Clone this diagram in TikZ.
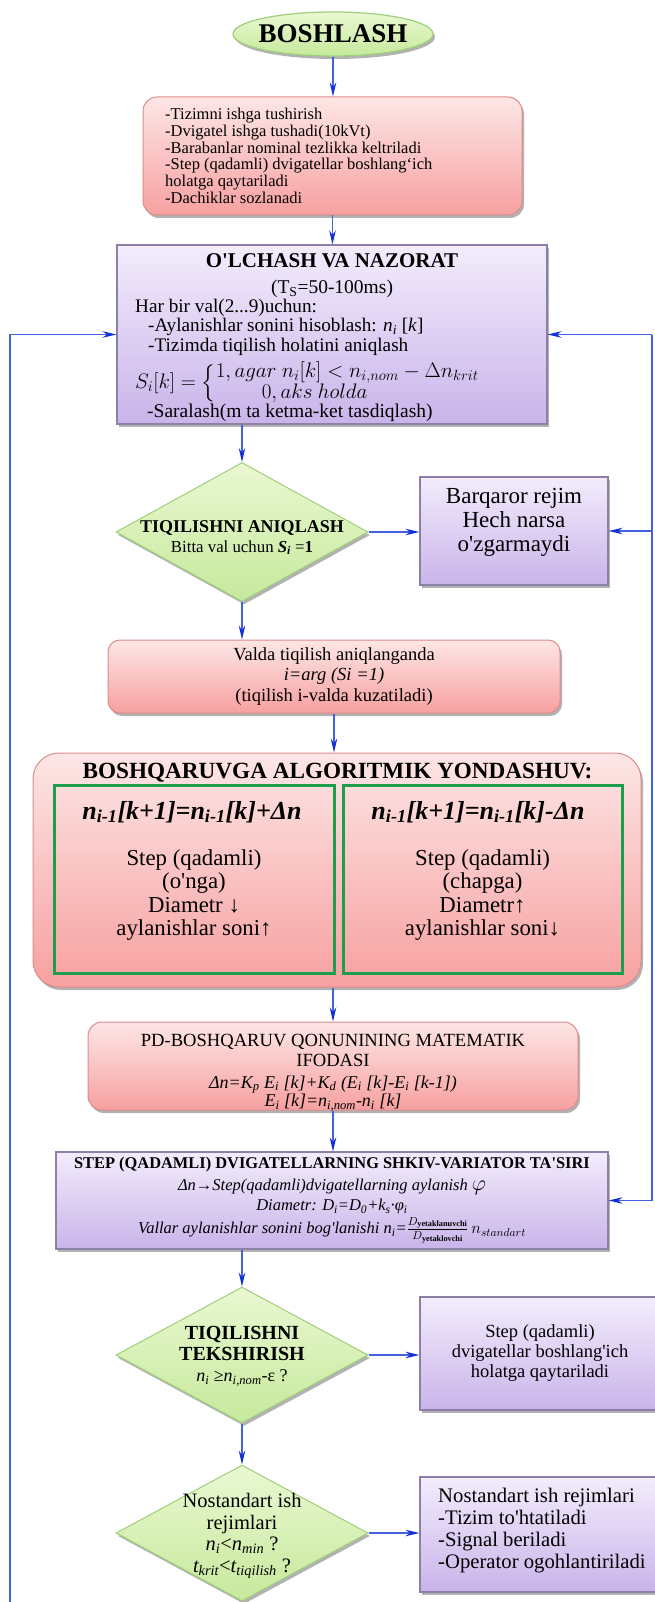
\RequirePackage{fix-cm}
\documentclass[tikz,border=0pt]{standalone}
\usepackage{amsmath}
\usepackage{fontspec}
\setmainfont{Liberation Serif}
\usetikzlibrary{shapes.geometric,arrows.meta,shadows}

\definecolor{pinkT}{HTML}{FDE6E6}
\definecolor{pinkB}{HTML}{F7A0A0}
\definecolor{pinkD}{HTML}{DE8C8C}
\definecolor{purT}{HTML}{F3ECFC}
\definecolor{purB}{HTML}{C9B4EA}
\definecolor{purD}{HTML}{8C80A6}
\definecolor{grT}{HTML}{EAF8D2}
\definecolor{grB}{HTML}{C6E99C}
\definecolor{grD}{HTML}{A0CF7C}
\definecolor{frameG}{HTML}{1E9E4A}
\definecolor{lineB}{HTML}{4462E0}
\definecolor{headB}{HTML}{1030D8}

\newcommand{\fs}[2]{\fontsize{#1}{#2}\selectfont}
\newcommand{\sbs}[1]{\textsubscript{#1}}
\newcommand{\bt}[1]{{\bfseries\fs{20}{22}#1}}
\newcommand{\q}{\textquotesingle}

\tikzset{
  shad/.style={drop shadow={shadow xshift=2pt,shadow yshift=-3pt,opacity=0.3,fill=black}},
  pinkbox/.style={draw=pinkD, line width=1pt, rounded corners=14pt, top color=pinkT, bottom color=pinkB, shad, inner sep=0pt},
  purbox/.style={draw=purD, line width=1.1pt, top color=purT, bottom color=purB, shad, inner sep=0pt},
  dec/.style={diamond, draw=grD, line width=1pt, top color=grT, bottom color=grB, shad, inner sep=0pt},
  startshape/.style={ellipse, draw=grD, line width=1.2pt, top color=grT, bottom color=grB, shad, inner sep=0pt},
  gframe/.style={draw=frameG, line width=3pt, inner sep=0pt},
  txt/.style={inner sep=0pt, align=center, text=black},
  conn/.style={draw=lineB, line width=1.5pt},
  arr/.style={conn, -{Stealth[length=14pt,width=6.5pt,color=headB]}},
}

\begin{document}
\begin{tikzpicture}[x=1pt,y=-1pt]
\fill[white] (0,0) rectangle (655,1602);
\useasboundingbox (0,0) rectangle (655,1602);

% ---------- shapes ----------
\node[startshape, minimum width=200, minimum height=44] (start) at (333,34) {};
\node[pinkbox, minimum width=379, minimum height=118] (b1) at (332.5,156) {};
\node[purbox, minimum width=430, minimum height=179] (b2) at (332,334.5) {};
\node[dec, minimum width=252, minimum height=139] (d1) at (242,532) {};
\node[purbox, minimum width=188, minimum height=108] (bq) at (514,531) {};
\node[pinkbox, rounded corners=12pt, minimum width=452, minimum height=73] (valda) at (334,676.5) {};
\node[pinkbox, rounded corners=26pt, minimum width=608, minimum height=234] (algo) at (337,870) {};
\node[gframe, minimum width=280, minimum height=188] (g1) at (194,879) {};
\node[gframe, minimum width=279, minimum height=188] (g2) at (482.5,879) {};
\node[pinkbox, minimum width=490, minimum height=88] (pd) at (333,1066) {};
\node[purbox, minimum width=552, minimum height=97] (st) at (332,1200.5) {};
\node[dec, minimum width=252, minimum height=136] (d2) at (242,1355) {};
\node[purbox, minimum width=240, minimum height=113] (r2) at (540,1353.5) {};
\node[dec, minimum width=252, minimum height=136] (d3) at (242,1533) {};
\node[purbox, minimum width=240, minimum height=115] (r3) at (540,1534.5) {};

% ---------- texts ----------
\node[txt, font=\bfseries\fs{27}{30}] (startT) at (333,34) {BOSHLASH};

\node[txt, align=left, anchor=west, font=\fs{16.5}{16.7}] (b1T) at (165,156)
  {-Tizimni ishga tushirish\\ -Dvigatel ishga tushadi(10kVt)\\ -Barabanlar nominal tezlikka keltriladi\\ -Step (qadamli) dvigatellar boshlang‘ich\\ holatga qaytariladi\\ -Dachiklar sozlanadi};

\node[txt, font=\bfseries\fs{21}{22}] (b2T1) at (332,261) {O\q LCHASH VA NAZORAT};
\node[txt, font=\fs{19.5}{20}] (b2T2) at (332,288.5) {(T\sbs{S}=50-100ms)};
\node[txt, align=left, anchor=west, font=\fs{19.2}{19.6}] (b2T3) at (135,327)
  {Har bir val(2...9)uchun:\\ \hspace*{13pt}-Aylanishlar sonini hisoblash: \textit{n\sbs{i}} [\textit{k}]\\ \hspace*{13pt}-Tizimda tiqilish holatini aniqlash};
\node[txt, anchor=west, font=\fs{21}{21}] (b2F) at (135,383)
  {\renewcommand{\arraystretch}{0.92}$S_i[k]=\Bigl\{\begin{array}{@{}l@{}}1, agar\ n_i[k]<n_{i,nom}-\Delta n_{krit}\\ \hspace{46pt}0, aks\ holda\end{array}$};
\node[txt, anchor=west, font=\fs{19.5}{20}] (b2T4) at (147,413) {-Saralash(m ta ketma-ket tasdiqlash)};

\node[txt, font=\fs{16.8}{19.5}] (d1T) at (242,538)
  {{\bfseries\fs{18}{19.5}TIQILISHNI ANIQLASH}\\ Bitta val uchun \textbf{\textit{S\sbs{i}}} =\textbf{1}};

\node[txt, font=\fs{23}{24}] (bqT) at (514,522) {Barqaror rejim\\ Hech narsa\\ o\q zgarmaydi};

\node[txt, font=\fs{18.5}{20.5}] (valdaT) at (334,676.5)
  {Valda tiqilish aniqlanganda\\ \textit{i=arg (Si =1)}\\ (tiqilish i-valda kuzatiladi)};

\node[txt, font=\bfseries\fs{23.2}{24}] (algoT) at (337.5,773) {BOSHQARUVGA ALGORITMIK YONDASHUV:};

\node[txt, font=\bfseries\itshape\fs{26}{26}] (g1F) at (192,812) {n\sbs{i-1}[k+1]=n\sbs{i-1}[k]+Δn};
\node[txt, font=\fs{22.8}{23.4}] (g1T) at (194,895) {Step (qadamli)\\ (o\q nga)\\ Diametr ↓\\ aylanishlar soni↑};
\node[txt, font=\bfseries\itshape\fs{26}{26}] (g2F) at (478,812) {n\sbs{i-1}[k+1]=n\sbs{i-1}[k]-Δn};
\node[txt, font=\fs{22.8}{23.4}] (g2T) at (482.5,895) {Step (qadamli)\\ (chapga)\\ Diametr↑\\ aylanishlar soni↓};

\node[txt, font=\fs{18.6}{20}] (pdT1) at (333,1050) {PD-BOSHQARUV QONUNINING MATEMATIK\\ IFODASI};
\node[txt, font=\itshape\fs{18}{17.5}] (pdT2) at (333,1093.5)
  {Δn=K\sbs{p} E\sbs{i} [k]+K\sbs{d} (E\sbs{i} [k]-E\sbs{i} [k-1])\\ E\sbs{i} [k]=n\sbs{i,nom}-n\sbs{i} [k]};

\node[txt, font=\bfseries\fs{16.4}{18}] (stT1) at (332,1165) {STEP (QADAMLI) DVIGATELLARNING SHKIV-VARIATOR TA\q SIRI};
\node[txt, font=\itshape\fs{16.5}{18}] (stT2) at (332,1187) {Δn→Step(qadamli)dvigatellarning aylanish {\fs{22}{22}$\varphi$}};
\node[txt, font=\itshape\fs{16.5}{18}] (stT3) at (332,1207) {Diametr: D\sbs{i}=D\sbs{0}+k\sbs{s}·φ\sbs{i}};
\node[txt, font=\itshape\fs{16.5}{18}] (stT4) at (332,1230)
  {Vallar aylanishlar sonini bog\q lanishi n\sbs{i}=$\frac{D_{\mathbf{yetaklanuvchi}}}{D_{\mathbf{yetaklovchi}}}\,n_{standart}$};

\node[txt, font=\fs{18}{21}] (d2T) at (242,1356)
  {\bt{TIQILISHNI}\\ \bt{TEKSHIRISH}\\ \textit{n\sbs{i}} ≥\textit{n\sbs{i,nom}}-ε ?};

\node[txt, font=\fs{18.5}{20}] (r2T) at (540,1353) {Step (qadamli)\\ dvigatellar boshlang\q ich\\ holatga qaytariladi};

\node[txt, font=\fs{20.5}{21.5}] (d3T) at (242,1536)
  {Nostandart ish\\ rejimlari\\ \textit{n\sbs{i}}<\textit{n\sbs{min}} ?\\ \textit{t\sbs{krit}}<\textit{t\sbs{tiqilish}} ?};

\node[txt, align=left, anchor=west, font=\fs{20.7}{21.7}] (r3T) at (438,1530.5)
  {Nostandart ish rejimlari\\ -Tizim to\q htatiladi\\ -Signal beriladi\\ -Operator ogohlantiriladi};

% ---------- connectors ----------
\draw[arr] (start.south) -- (start.south |- b1.north);
\draw[arr] (b1.south) -- (b1.south |- b2.north);
\draw[arr] (d1.north |- b2.south) -- (d1.north);
\draw[arr] (d1.east) -- (d1.east -| bq.west);
\draw[arr] (d1.south) -- (d1.south |- valda.north);
\draw[arr] (valda.south) -- (valda.south |- algo.north);
\draw[arr] (pd.north |- algo.south) -- (pd.north);
\draw[arr] (pd.south) -- (pd.south |- st.north);
\draw[arr] (d2.north |- st.south) -- (d2.north);
\draw[arr] (d2.east) -- (d2.east -| r2.west);
\draw[arr] (d2.south) -- (d3.north);
\draw[arr] (d3.east) -- (d3.east -| r3.west);

\coordinate (Lb) at (10,1612);
\draw[arr] (Lb) |- (b2.west);

\coordinate (Rt) at (652,334.5);
\coordinate (Rb) at (652,1200.5);
\draw[conn] (Rt) -- (Rb);
\draw[arr] (Rt) -- (b2.east);
\draw[arr] (Rt |- bq.east) -- (bq.east);
\draw[arr] (Rb) -- (st.east);
\end{tikzpicture}
\end{document}
